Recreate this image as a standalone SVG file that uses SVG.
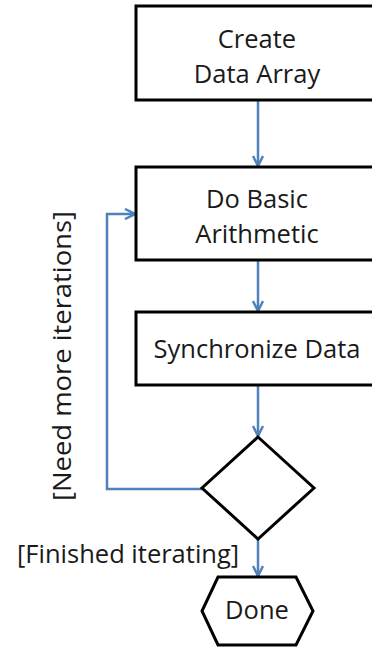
<svg xmlns="http://www.w3.org/2000/svg" width="372" height="648" viewBox="0 0 372 648">
<style>
.node{fill:#fff;stroke:#000;stroke-width:3}
.t{font-family:"Open Sans","Liberation Sans",sans-serif;font-size:25.5px;fill:#1a1a1a;text-anchor:middle}
.lbl{font-family:"Open Sans","Liberation Sans",sans-serif;font-size:25.5px;fill:#1a1a1a}
.c{fill:none;stroke:#4f81bd;stroke-width:2.5}
</style>
<defs>
<marker id="ah" viewBox="0 0 12 12" refX="11" refY="6" markerWidth="12" markerHeight="12" markerUnits="userSpaceOnUse" orient="auto">
<path d="M1,1 L11,6 L1,11" fill="none" stroke="#4f81bd" stroke-width="2.5"/>
</marker>
</defs>
<rect width="372" height="648" fill="#fff"/>
<g id="connectors">
<line class="c" x1="258" y1="100" x2="258" y2="166" marker-end="url(#ah)"/>
<line class="c" x1="258" y1="260" x2="258" y2="311" marker-end="url(#ah)"/>
<line class="c" x1="258" y1="385" x2="258" y2="436" marker-end="url(#ah)"/>
<line class="c" x1="258" y1="539" x2="258" y2="576" marker-end="url(#ah)"/>
<polyline class="c" points="203,489 107,489 107,214 135,214" marker-end="url(#ah)"/>
</g>
<g id="create">
<rect class="node" x="136" y="6" width="260" height="94"/>
<text class="t" x="257" y="48">Create</text>
<text class="t" x="257" y="83">Data Array</text>
</g>
<g id="arith">
<rect class="node" x="136" y="167" width="260" height="93"/>
<text class="t" x="257" y="208">Do Basic</text>
<text class="t" x="257" y="243">Arithmetic</text>
</g>
<g id="sync">
<rect class="node" x="136" y="312" width="260" height="73"/>
<text class="t" x="257" y="358">Synchronize Data</text>
</g>
<g id="decision">
<polygon class="node" points="258,437 314,488 258,539 202,488"/>
</g>
<g id="done">
<polygon class="node" points="218,577 296,577 313,611 296,645 218,645 202,611"/>
<text class="t" x="257" y="619">Done</text>
</g>
<g id="labels">
<text class="lbl" x="17" y="563">[Finished iterating]</text>
<text class="lbl" transform="translate(71,356) rotate(-90)" text-anchor="middle" textLength="290" lengthAdjust="spacingAndGlyphs">[Need more iterations]</text>
</g>
</svg>
